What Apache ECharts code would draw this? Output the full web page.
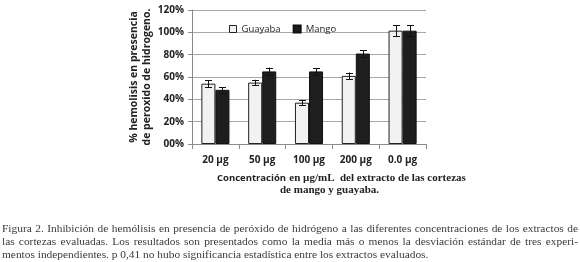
<!DOCTYPE html>
<html>
<head>
<meta charset="utf-8">
<script src="https://cdn.jsdelivr.net/npm/echarts@6/dist/echarts.min.js"></script>
<style>
  html, body { margin: 0; padding: 0; background: #fff; }
  #wrap { position: relative; width: 580px; height: 262px; }
  #chart { position: absolute; left: 0; top: 0; width: 580px; height: 262px; }
  .cap { position: absolute; left: 2px; width: 576px; font-family: "Liberation Serif", serif;
         font-size: 11.4px; color: #3a3a3a; white-space: nowrap; line-height: 12px; }
  .just { text-align: justify; text-align-last: justify; white-space: normal; }
</style>
</head>
<body>
<div id="wrap">
  <div id="chart"></div>
  <div class="cap just" style="top:222px">Figura 2. Inhibición de hemólisis en presencia de peróxido de hidrógeno a las diferentes concentraciones de los extractos de</div>
  <div class="cap just" style="top:235px">las cortezas evaluadas. Los resultados son presentados como la media más o menos la desviación estándar de tres experi-</div>
  <div class="cap" style="top:248px">mentos independientes. p 0,41 no hubo significancia estadística entre los extractos evaluados.</div>
</div>
<script>
// data
const categories = ["20 µg", "50 µg", "100 µg", "200 µg", "0.0 µg"];
const guayaba = [54, 55, 37, 61, 101.5];
const guayabaErr = [3, 2.5, 2, 3, 5];
const mango = [48.5, 65, 65, 81, 101.5];
const mangoErr = [2.5, 3.5, 3, 3, 5];
const yTickLabels = ["00%", "20%", "40%", "60%", "80%", "100%", "120%"];

const chart = echarts.init(document.getElementById("chart"));

// whisker drawn at the bar centre, shifted left (-1) or right (+1)
function errorBars(values, errs, side) {
    return {
        type: "custom",
        z: 5,
        silent: true,
        data: values.map((v, i) => [i, v - errs[i], v + errs[i]]),
        renderItem: function (params, api) {
            const band = api.size([1, 0])[0];
            const lo = api.coord([api.value(0), api.value(1)]);
            const hi = api.coord([api.value(0), api.value(2)]);
            const x = Math.round(lo[0] + side * band * 0.15) + 0.5;
            const cap = 3.5;
            const st = { stroke: "#111", lineWidth: 1 };
            return {
                type: "group",
                children: [
                    { type: "line", shape: { x1: x, y1: lo[1], x2: x, y2: hi[1] }, style: st },
                    { type: "line", shape: { x1: x - cap, y1: Math.round(lo[1]) + 0.5, x2: x + cap, y2: Math.round(lo[1]) + 0.5 }, style: st },
                    { type: "line", shape: { x1: x - cap, y1: Math.round(hi[1]) + 0.5, x2: x + cap, y2: Math.round(hi[1]) + 0.5 }, style: st }
                ]
            };
        }
    };
}

const sans = "Open Sans";

chart.setOption({
    animation: false,
    grid: { left: 192, right: 154, top: 10, bottom: 118 },
    legend: {
        top: 19,
        left: 224,
        itemWidth: 7,
        itemHeight: 7,
        itemGap: 12,
        textStyle: { fontFamily: sans, fontSize: 9.5, color: "#222" },
        data: [
            { name: "Guayaba", icon: "rect", itemStyle: { color: "#f2f2f2", borderColor: "#222", borderWidth: 1 } },
            { name: "Mango", icon: "rect", itemStyle: { color: "#1e1e1e" } }
        ]
    },
    xAxis: {
        type: "category",
        data: categories,
        axisLine: { lineStyle: { color: "#8a8a8a" } },
        axisTick: { show: true, length: 5, lineStyle: { color: "#8a8a8a" } },
        axisLabel: { fontFamily: sans, fontWeight: "bold", fontSize: 10, color: "#222", margin: 11 }
    },
    yAxis: {
        type: "value",
        min: 0,
        max: 120,
        interval: 20,
        name: "% hemolisis en presencia\nde peroxido de hidrogeno.",
        nameLocation: "middle",
        nameRotate: 90,
        nameGap: 36,
        nameTextStyle: { fontFamily: sans, fontWeight: "bold", fontSize: 10.5, color: "#222", lineHeight: 13 },
        axisLine: { show: true, lineStyle: { color: "#8a8a8a" } },
        axisTick: { show: true, length: 4, lineStyle: { color: "#8a8a8a" } },
        axisLabel: {
            fontFamily: sans, fontWeight: "bold", fontSize: 10, color: "#222", margin: 8,
            formatter: (v) => yTickLabels[Math.round(v / 20)]
        },
        splitLine: { lineStyle: { color: "#a8a8a8" } }
    },
    series: [
        {
            name: "Guayaba",
            type: "bar",
            data: guayaba,
            barWidth: "30%",
            barGap: "0%",
            itemStyle: { color: "#f2f2f2", borderColor: "#222", borderWidth: 1 }
        },
        {
            name: "Mango",
            type: "bar",
            data: mango,
            barWidth: "30%",
            barGap: "0%",
            itemStyle: { color: "#1e1e1e", borderColor: "#111", borderWidth: 1 }
        },
        errorBars(guayaba, guayabaErr, -1),
        errorBars(mango, mangoErr, 1)
    ],
    graphic: [
        {
            type: "text",
            left: 217,
            top: 172,
            style: {
                text: "{a|Concentración} {b|en µg/mL  del extracto de las cortezas}",
                rich: {
                    a: { fontFamily: sans, fontWeight: "bold", fontSize: 9.5, fill: "#222" },
                    b: { fontFamily: "Liberation Serif", fontWeight: "bold", fontSize: 11, fill: "#222" }
                }
            }
        },
        {
            type: "text",
            left: 280,
            top: 185,
            style: { text: "de mango y guayaba.", fontFamily: "Liberation Serif", fontWeight: "bold", fontSize: 11, fill: "#222" }
        }
    ]
});
</script>
</body>
</html>
